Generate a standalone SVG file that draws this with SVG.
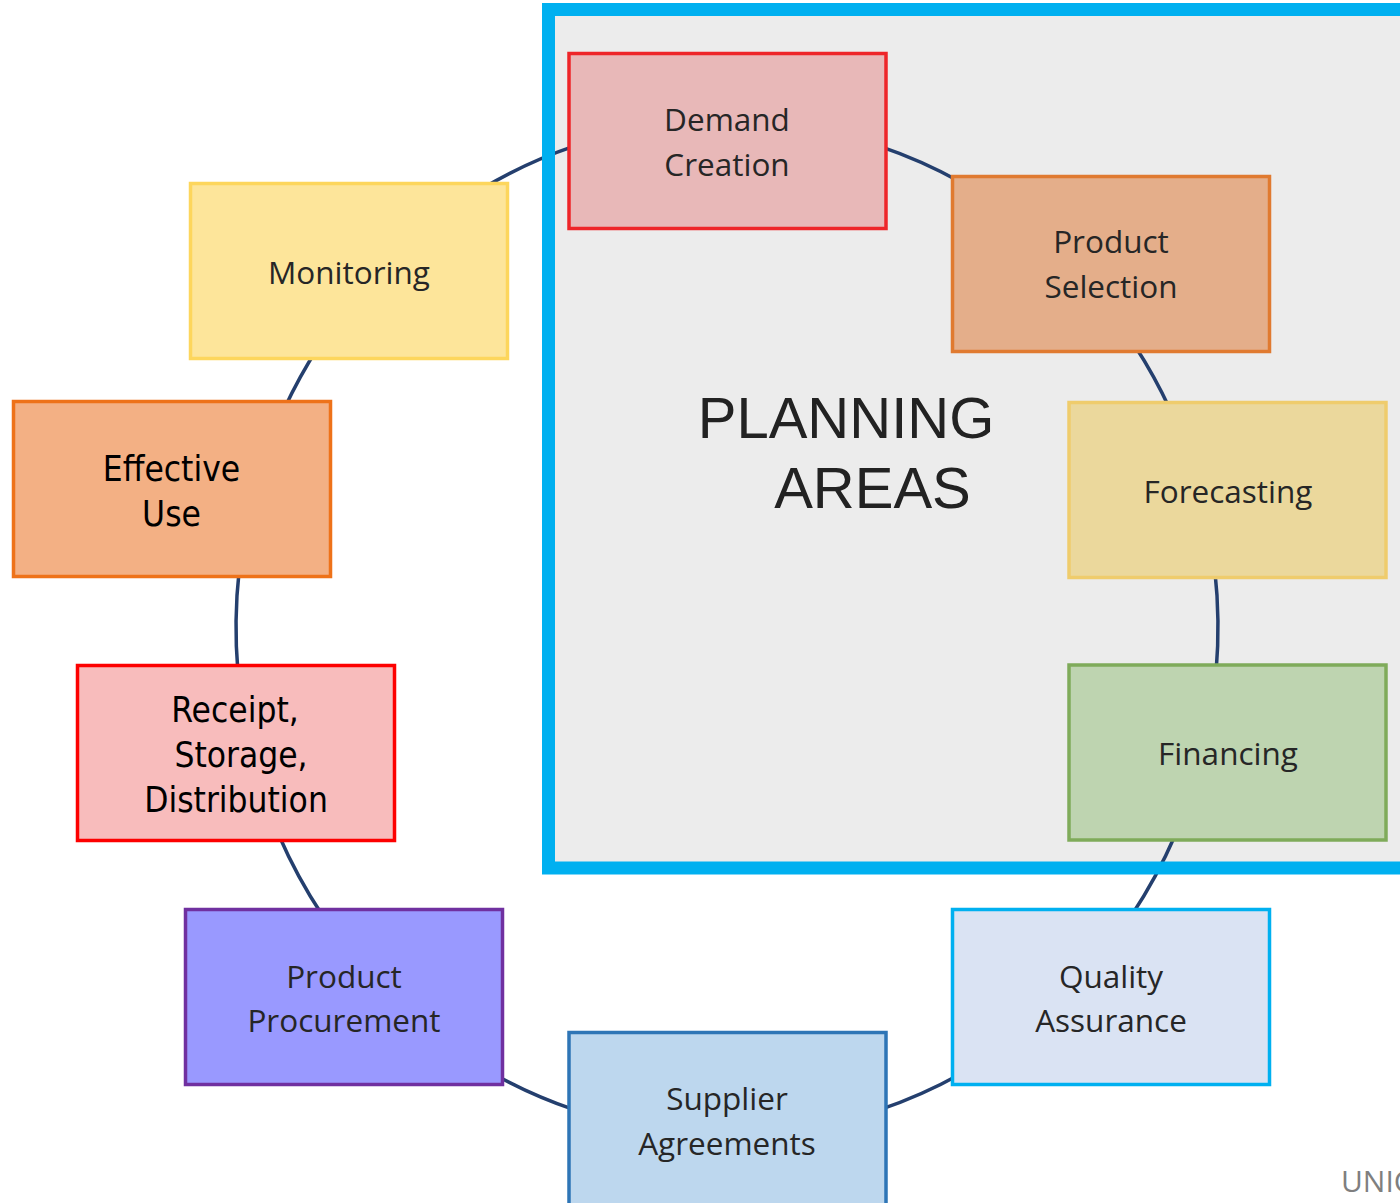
<svg xmlns="http://www.w3.org/2000/svg" width="1400" height="1203" viewBox="0 0 1400 1203">
<style>
.node rect{stroke-width:3.5}
.lbl{font-family:"Open Sans","Liberation Sans",sans-serif;font-size:31.5px;fill:#262626;text-anchor:middle}
.blbl{font-family:"DejaVu Sans Condensed","DejaVu Sans",sans-serif;font-size:35px;fill:#000;text-anchor:middle}
.conn path{fill:none;stroke:#243f6e;stroke-width:3.5}
</style>
<rect width="1400" height="1203" fill="#ffffff"/>
<g id="planning-frame-bg">
<rect x="548.5" y="9.5" width="900" height="858.5" fill="#ececec"/>
</g>
<g id="connectors" class="conn">
<path d="M 880 146.3 A 491 507 0 0 1 960 181.7"/>
<path d="M 1134.4 345 A 491 507 0 0 1 1170.3 410"/>
<path d="M 1214.8 570 A 491 507 0 0 1 1216.1 672"/>
<path d="M 1175.2 835 A 491 507 0 0 1 1131.8 915"/>
<path d="M 960 1074.3 A 491 507 0 0 1 880 1109.7"/>
<path d="M 574 1109.7 A 491 507 0 0 1 494 1074.3"/>
<path d="M 322.2 915 A 491 507 0 0 1 278.8 835"/>
<path d="M 237.9 672 A 491 507 0 0 1 239.2 570"/>
<path d="M 283.7 410 A 491 507 0 0 1 319.6 345"/>
<path d="M 480 189.8 A 491 507 0 0 1 575 145.9"/>
</g>
<g id="planning-frame">
<rect x="548.5" y="9.5" width="900" height="858.5" fill="none" stroke="#00b0f0" stroke-width="13"/>
<text x="846" y="438" font-family="'Liberation Sans',Arial,sans-serif" font-size="58" fill="#222222" text-anchor="middle">PLANNING</text>
<text x="872.5" y="508" font-family="'Liberation Sans',Arial,sans-serif" font-size="58" fill="#222222" text-anchor="middle">AREAS</text>
</g>
<g id="demand-creation" class="node">
<rect x="569" y="53.5" width="317" height="175" fill="#e8b8b8" stroke="#ee2529"/>
<text class="lbl" x="727" y="131">Demand</text>
<text class="lbl" x="727" y="176">Creation</text>
</g>
<g id="product-selection" class="node">
<rect x="952.5" y="176.5" width="317" height="175" fill="#e4ae8a" stroke="#e07a30"/>
<text class="lbl" x="1111" y="253">Product</text>
<text class="lbl" x="1111" y="298">Selection</text>
</g>
<g id="forecasting" class="node">
<rect x="1069" y="402.5" width="317" height="175" fill="#ebd89c" stroke="#efcc6c"/>
<text class="lbl" x="1228" y="503">Forecasting</text>
</g>
<g id="financing" class="node">
<rect x="1069" y="665" width="317" height="175" fill="#bed4b0" stroke="#7fab5a"/>
<text class="lbl" x="1228" y="765">Financing</text>
</g>
<g id="quality-assurance" class="node">
<rect x="952.5" y="909.5" width="317" height="175" fill="#dae3f3" stroke="#00b0f0"/>
<text class="lbl" x="1111" y="988">Quality</text>
<text class="lbl" x="1111" y="1032">Assurance</text>
</g>
<g id="supplier-agreements" class="node">
<rect x="569" y="1032.5" width="317" height="175" fill="#bdd7ee" stroke="#2e75b6"/>
<text class="lbl" x="727" y="1110">Supplier</text>
<text class="lbl" x="727" y="1155">Agreements</text>
</g>
<g id="product-procurement" class="node">
<rect x="185.5" y="909.5" width="317" height="175" fill="#9999ff" stroke="#7030a0"/>
<text class="lbl" x="344" y="988">Product</text>
<text class="lbl" x="344" y="1032">Procurement</text>
</g>
<g id="receipt-storage-distribution" class="node">
<rect x="77.5" y="665.5" width="317" height="175" fill="#f8bcbc" stroke="#fd0000"/>
<text class="blbl" x="235" y="722">Receipt,</text>
<text class="blbl" x="241" y="767">Storage,</text>
<text class="blbl" x="236" y="812">Distribution</text>
</g>
<g id="effective-use" class="node">
<rect x="13.5" y="401.5" width="317" height="175" fill="#f3b084" stroke="#ee7219"/>
<text class="blbl" x="171.5" y="481">Effective</text>
<text class="blbl" x="171.5" y="526">Use</text>
</g>
<g id="monitoring" class="node">
<rect x="190.5" y="183.5" width="317" height="175" fill="#fde59a" stroke="#fdd65c"/>
<text class="lbl" x="349" y="284">Monitoring</text>
</g>
<text x="1341" y="1192" font-family="'Open Sans','Liberation Sans',sans-serif" font-size="30" fill="#7f7f7f">UNIC</text>
</svg>
